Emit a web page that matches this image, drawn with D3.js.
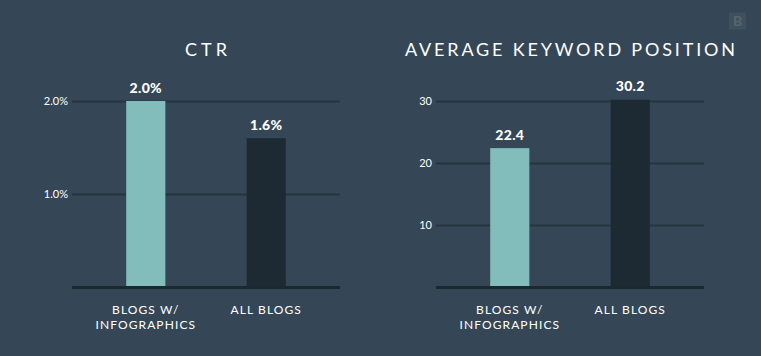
<!DOCTYPE html>
<html>
<head>
<meta charset="utf-8">
<script src="https://cdn.jsdelivr.net/npm/d3@7"></script>
<style>
  html, body { margin: 0; padding: 0; background: #354756; }
  svg { display: block; }
  text { font-family: Lato, "Open Sans", sans-serif; fill: #ffffff; }
</style>
</head>
<body>
<svg id="chart" width="761" height="356"></svg>
<script>
// ---- data ----
const categories = ["BLOGS W/\nINFOGRAPHICS", "ALL BLOGS"];
const ctrTitle = "CTR";
const ctrValues = [2.0, 1.6];
const ctrTicks = [1.0, 2.0];
const kwTitle = "AVERAGE KEYWORD POSITION";
const kwValues = [22.4, 30.2];
const kwTicks = [10, 20, 30];

// ---- style ----
const BG = "#354756";
const LIGHT = "#82bcbb";
const DARK = "#1d2a33";
const GRID = "#26353f";
const BASE = "#1c2830";

const svg = d3.select("#chart");
svg.append("rect").attr("width", 761).attr("height", 356).attr("fill", BG);

function panel(x0, title, titleWidth, values, ticks, yMax, fmt) {
  const g = svg.append("g");
  const x = d3.scaleBand().domain(categories).range([x0, x0 + 268])
    .paddingInner(0.675).paddingOuter(0.45);
  const y = d3.scaleLinear().domain([0, yMax]).range([287, 101]);

  // gridlines + tick labels
  const ax = g.append("g").attr("transform", `translate(${x0},0)`)
    .call(d3.axisLeft(y).tickValues(ticks).tickSize(-268).tickPadding(4).tickFormat(fmt));
  ax.select(".domain").remove();
  ax.selectAll(".tick line").attr("stroke", GRID).attr("stroke-width", 2);
  ax.selectAll(".tick text").attr("fill", "#ffffff").style("font-size", "11px")
    .style("font-family", "Lato, sans-serif");

  // bars
  g.selectAll("rect.bar").data(values).enter().append("rect")
    .attr("class", "bar")
    .attr("x", (d, i) => x(categories[i]))
    .attr("width", x.bandwidth())
    .attr("y", d => y(d))
    .attr("height", d => y(0) - y(d))
    .attr("fill", (d, i) => i === 0 ? LIGHT : DARK);

  // baseline
  g.append("line").attr("x1", x0).attr("x2", x0 + 268)
    .attr("y1", y(0) + 0.5).attr("y2", y(0) + 0.5)
    .attr("stroke", BASE).attr("stroke-width", 3);

  // value labels
  g.selectAll("text.val").data(values).enter().append("text")
    .attr("class", "val")
    .attr("x", (d, i) => x(categories[i]) + x.bandwidth() / 2)
    .attr("y", d => y(d) - 8.5)
    .attr("text-anchor", "middle")
    .style("font-size", "14px").style("font-weight", "900").style("letter-spacing", "0.3px")
    .text((d, i) => fmt(d));

  // category labels
  categories.forEach((c, i) => {
    const t = g.append("text")
      .attr("x", x(c) + x.bandwidth() / 2)
      .attr("text-anchor", "middle")
      .style("font-size", "12px").style("letter-spacing", "1.1px");
    c.split("\n").forEach((line, j) => {
      t.append("tspan").attr("x", x(c) + x.bandwidth() / 2)
        .attr("y", 313.5 + j * 15.5).text(line);
    });
  });

  // title
  g.append("text").attr("x", x0 + 134).attr("y", 55.7)
    .attr("text-anchor", "middle")
    .attr("textLength", titleWidth).attr("lengthAdjust", "spacing")
    .style("font-size", "18px").style("font-weight", "400")
    .text(title);
}

panel(72, ctrTitle, 42, ctrValues, ctrTicks, 2.0, d => d.toFixed(1) + "%");
panel(436, kwTitle, 330, kwValues, kwTicks, 30, d => d3.format(".1~f")(d));

// small logo mark
svg.append("rect").attr("x", 729).attr("y", 12.5).attr("width", 17).attr("height", 17)
  .attr("fill", "#3f505d");
svg.append("text").attr("x", 737.5).attr("y", 26).attr("text-anchor", "middle")
  .style("font-size", "14px").style("font-weight", "700").style("fill", "#56656f").text("B");
</script>
</body>
</html>
